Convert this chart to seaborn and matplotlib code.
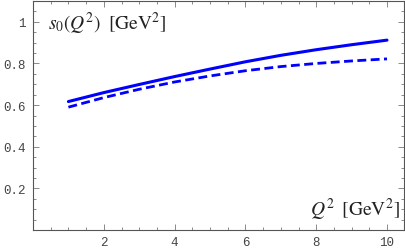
import numpy as np
import pandas as pd
import matplotlib
matplotlib.use("Agg")
import matplotlib.pyplot as plt
import seaborn as sns
from matplotlib.ticker import MultipleLocator

# data
q2 = [1, 2, 3, 4, 5, 6, 7, 8, 9, 10]
s0_solid = [0.617, 0.660, 0.699, 0.737, 0.773, 0.808, 0.839, 0.866, 0.890, 0.912]
s0_dashed = [0.590, 0.636, 0.676, 0.711, 0.740, 0.765, 0.785, 0.800, 0.812, 0.822]

x_ticks = [2, 4, 6, 8, 10]
y_ticks = [0.2, 0.4, 0.6, 0.8, 1.0]
y_tick_labels = ["0.2", "0.4", "0.6", "0.8", "1"]


def main():
    sns.set_theme(style="ticks")
    plt.rcParams["mathtext.fontset"] = "stix"
    plt.rcParams["font.family"] = ["DejaVu Sans"]

    df = pd.DataFrame({"Q2": q2, "solid": s0_solid, "dashed": s0_dashed})

    fig = plt.figure(figsize=(4.05, 2.51), dpi=100)
    ax = fig.add_axes([33 / 405, 20 / 251, 371 / 405, 229 / 251])

    sns.lineplot(data=df, x="Q2", y="solid", ax=ax, color="#0000ff", lw=2.2)
    sns.lineplot(data=df, x="Q2", y="dashed", ax=ax, color="#0000ff", lw=2.0,
                 linestyle=(0, (3.2, 1.6)))

    ax.set_xlim(0, 10.48)
    ax.set_ylim(0, 1.1)
    ax.set_xlabel("")
    ax.set_ylabel("")

    ax.set_xticks(x_ticks)
    ax.set_xticklabels([str(t) for t in x_ticks])
    ax.set_yticks(y_ticks)
    ax.set_yticklabels(y_tick_labels)
    ax.xaxis.set_minor_locator(MultipleLocator(0.5))
    ax.yaxis.set_minor_locator(MultipleLocator(0.05))

    for s in ax.spines.values():
        s.set_visible(True)
        s.set_color("#555555")
        s.set_linewidth(0.8)

    ax.tick_params(which="both", direction="in", top=True, right=True,
                   color="#777777", width=0.6)
    ax.tick_params(which="major", length=4, labelsize=9, pad=5,
                   labelcolor="#444444")
    ax.tick_params(which="minor", length=2)
    ax.tick_params(axis="x", labeltop=False, pad=4)
    ax.tick_params(axis="y", labelright=False)
    for lab in ax.get_xticklabels() + ax.get_yticklabels():
        lab.set_family("Liberation Mono")

    ax.text(0.04, 0.905, r"$s_0(Q^2)\;\;[\mathrm{GeV}^2]$", transform=ax.transAxes,
            fontsize=14, color="#222222", ha="left", va="center")
    ax.text(0.99, 0.09, r"$Q^2\;\;[\mathrm{GeV}^2]$", transform=ax.transAxes,
            fontsize=14, color="#222222", ha="right", va="center")

    fig.savefig("out.png", dpi=100)
    plt.close(fig)


if __name__ == "__main__":
    main()
